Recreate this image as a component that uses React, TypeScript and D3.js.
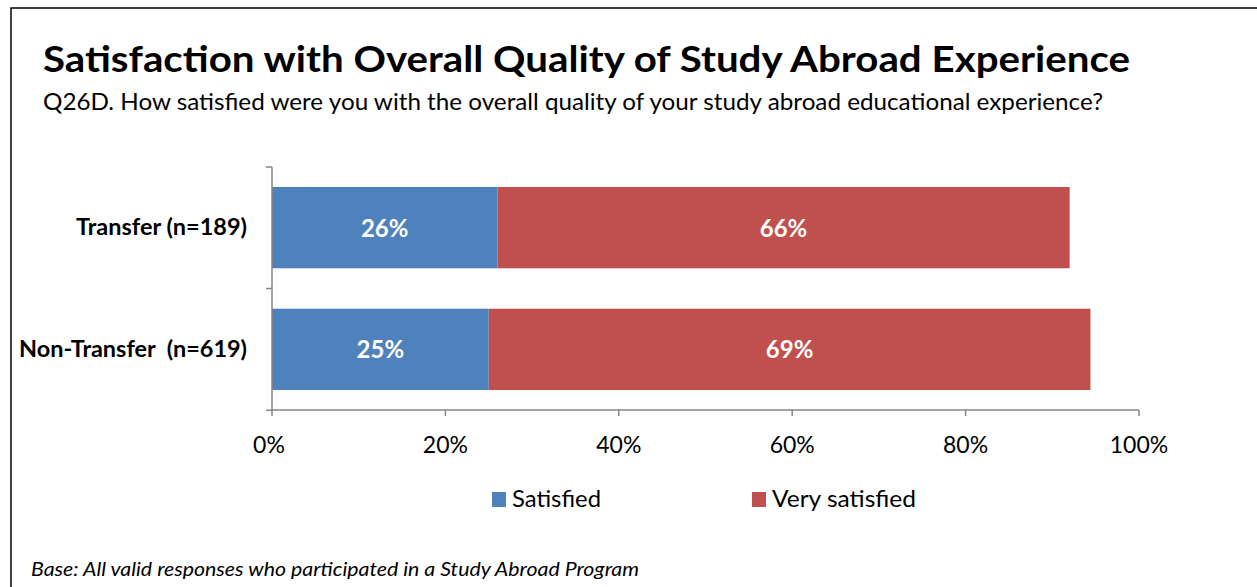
import React from "react";
import * as d3 from "d3";

const categories = ["Transfer (n=189)", "Non-Transfer  (n=619)"];
const satisfied = [26.0, 25.0];
const verySatisfied = [66.0, 69.4];
const seriesNames = ["Satisfied", "Very satisfied"];
const tickValues = [0, 20, 40, 60, 80, 100];
const tickLabels = ["0%", "20%", "40%", "60%", "80%", "100%"];

const title = "Satisfaction with Overall Quality of Study Abroad Experience";
const subtitle = "Q26D. How satisfied were you with the overall quality of your study abroad educational experience?";
const footnote = "Base: All valid responses who participated in a Study Abroad Program";

const BLUE = "#4F81BD";
const RED = "#C0504D";
const AXIS = "#868686";
const FONT = "Lato, 'Open Sans', sans-serif";

export default function App() {
  const x = d3.scaleLinear().domain([0, 100]).range([272, 1139]);
  const y = d3.scaleBand<string>().domain(categories).range([167, 410]).paddingInner(0.332).paddingOuter(0.164);
  const catWidths = [171, 228];
  const legendX = [492, 752];
  const legendW = [89, 144];

  return (
    <svg width={1257} height={587} style={{ position: "absolute", left: 0, top: 0, background: "#fff" }} fontFamily={FONT}>
      <rect x={11} y={8} width={1300} height={700} fill="#fff" stroke="#000" strokeWidth={1.5} />
      <text x={43} y={72} fontSize={37} fontWeight={700} textLength={1087} lengthAdjust="spacingAndGlyphs">{title}</text>
      <text x={43} y={110} fontSize={23} textLength={1060} lengthAdjust="spacingAndGlyphs">{subtitle}</text>

      {categories.map((c, i) => {
        const y0 = y(c)!;
        const h = y.bandwidth();
        const s = satisfied[i];
        const v = verySatisfied[i];
        return (
          <g key={c}>
            <rect x={x(0)} y={y0} width={x(s) - x(0)} height={h} fill={BLUE} />
            <rect x={x(s)} y={y0} width={x(s + v) - x(s)} height={h} fill={RED} />
            <text x={(x(0) + x(s)) / 2} y={y0 + h / 2 + 9} fontSize={24} fontWeight={700} fill="#fff" textAnchor="middle">{Math.round(s)}%</text>
            <text x={(x(s) + x(s + v)) / 2} y={y0 + h / 2 + 9} fontSize={24} fontWeight={700} fill="#fff" textAnchor="middle">{Math.round(v)}%</text>
            <text x={247} y={y0 + h / 2 + 7.5} fontSize={22} fontWeight={700} textAnchor="end" textLength={catWidths[i]} lengthAdjust="spacingAndGlyphs" style={{ whiteSpace: "pre" }}>{c}</text>
          </g>
        );
      })}

      {/* y axis */}
      <line x1={x(0)} x2={x(0)} y1={167} y2={410} stroke={AXIS} strokeWidth={1.5} />
      {[167, ...categories.map((c) => y(c)! + y.bandwidth() + (y.step() - y.bandwidth()) / 2)].map((t, i) => (
        <line key={i} x1={x(0) - 6} x2={x(0)} y1={t} y2={t} stroke={AXIS} strokeWidth={1.5} />
      ))}
      {/* x axis */}
      <line x1={x(0)} x2={x(100)} y1={410} y2={410} stroke={AXIS} strokeWidth={1.5} />
      {tickValues.map((t, i) => (
        <g key={t}>
          <line x1={x(t)} x2={x(t)} y1={410} y2={416} stroke={AXIS} strokeWidth={1.5} />
          <text x={x(t) - (i === 0 ? 3 : 0)} y={453} fontSize={23} textAnchor="middle">{tickLabels[i]}</text>
        </g>
      ))}

      {/* legend */}
      {seriesNames.map((n, i) => (
        <g key={n}>
          <rect x={legendX[i]} y={492} width={14} height={15} fill={i === 0 ? BLUE : RED} />
          <text x={legendX[i] + 20} y={507} fontSize={23.5} textLength={legendW[i]} lengthAdjust="spacingAndGlyphs">{n}</text>
        </g>
      ))}

      <text x={31} y={576} fontSize={20} fontStyle="italic" textLength={608} lengthAdjust="spacingAndGlyphs">{footnote}</text>
    </svg>
  );
}
